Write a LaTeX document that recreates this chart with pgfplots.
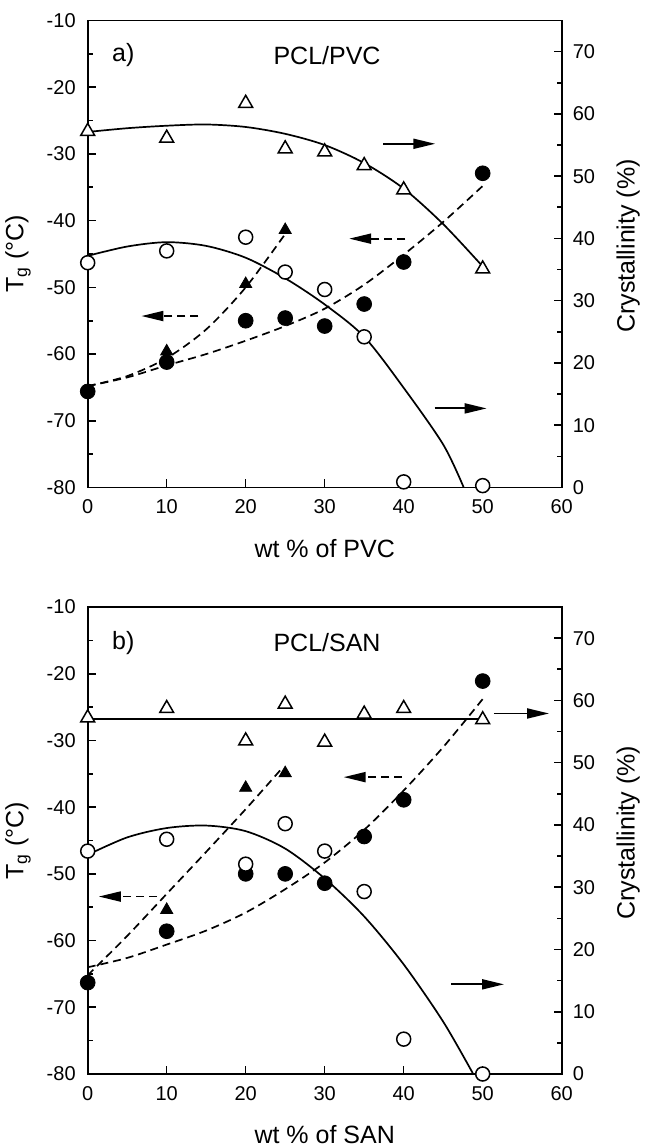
\documentclass[border=0pt]{standalone}
\usepackage{fontspec}
\setmainfont{Liberation Sans}
\usepackage{pgfplots}
\pgfplotsset{compat=1.18}
\usetikzlibrary{arrows.meta}

\newcommand{\tickfont}{\fontsize{10}{12}\selectfont}
\newcommand{\labfont}{\fontsize{12.5}{15}\selectfont}

\pgfplotsset{
  panel/.style={
    scale only axis, width=237pt, height=233.5pt,
    xmin=0, xmax=60, clip=false,
    tick align=inside,
    major tick length=4pt, minor tick length=2.5pt,
    axis line style={line width=0.9pt},
    tick style={line width=0.8pt, black},
    tick label style={font=\tickfont},
    label style={font=\labfont},
    /pgf/number format/assume math mode=true,
  },
  tgaxis/.style={
    panel,
    ymin=-80, ymax=-10,
    xtick={0,10,...,60}, ytick={-80,-70,...,-10},
    minor ytick={-75,-65,...,-15},
    xtick pos=bottom, ytick pos=left,
    yticklabel style={xshift=-2.5pt},
    xticklabel style={yshift=-2.5pt},
    ylabel={T\textsubscript{g} (°C)},
    ylabel style={at={(axis description cs:-0.147,0.5)}, anchor=center},
    xlabel style={at={(axis description cs:0.5,-0.13)}, anchor=center},
  },
  craxis/.style={
    panel,
    ymin=0, ymax=75,
    axis x line=none, axis y line*=right,
    ytick={0,10,...,70}, minor ytick={5,15,...,65},
    yticklabel style={xshift=2pt},
    ylabel={Crystallinity (\%)},
    ylabel style={at={(axis description cs:1.14,0.517)}, anchor=center},
  },
  fcirc/.style={only marks, mark=*, mark size=3.7pt, black},
  ocirc/.style={only marks, mark=*, mark size=3.5pt,
    mark options={fill=white, draw=black, line width=0.75pt}},
  ftri/.style={only marks, mark=triangle*, mark size=3.5pt, black},
  otri/.style={only marks, mark=triangle*, mark size=4pt,
    mark options={fill=white, draw=black, line width=0.75pt}},
  fit/.style={no marks, smooth, black, line width=0.85pt},
  dfit/.style={no marks, smooth, black, line width=0.85pt, dash pattern=on 4pt off 2.5pt},
  rarrow/.style={no marks, black, line width=0.95pt, -{Triangle[length=11pt,width=5pt]}},
  larrow/.style={no marks, black, line width=0.95pt, dash pattern=on 4pt off 2.5pt,
    -{Triangle[length=11pt,width=5pt]}},
}

\begin{document}
\begin{tikzpicture}

% ---------------- a) PCL/PVC ----------------
\begin{axis}[tgaxis, at={(43.85pt,329.25pt)}, anchor=south west,
  xlabel={wt \% of PVC}]
\addplot[dfit] coordinates {(0,-64.8) (5,-63.3) (10,-60.6) (15,-56.3) (20,-50.0) (25,-42.0)};
\addplot[dfit] coordinates {(0,-64.8) (5,-63.5) (10,-61.7) (15,-60.0) (20,-58.0) (25,-55.8)
  (30,-53.2) (35,-49.6) (40,-45.1) (45,-40.2) (50,-34.8)};
\addplot[fcirc] coordinates {(0,-65.6) (10,-61.2) (20,-55.0) (25,-54.6) (30,-55.8)
  (35,-52.5) (40,-46.2) (50,-32.9)};
\addplot[ftri] coordinates {(10,-59.6) (20,-49.5) (25,-41.4)};
\addplot[larrow] coordinates {(14.0,-54.3) (6.8,-54.3)};
\addplot[larrow] coordinates {(40.2,-42.7) (33.1,-42.7)};
\node[font=\labfont] at (axis cs:4.5,-15.2) {a)};
\node[font=\labfont] at (axis cs:30.3,-15.2) {PCL/PVC};
\end{axis}

\begin{axis}[craxis, at={(43.85pt,329.25pt)}, anchor=south west]
\addplot[fit] coordinates {(0,57.1) (5,57.7) (10,58.1) (15,58.3) (20,57.9) (25,56.8)
  (30,55.0) (35,52.1) (40,48.0) (45,42.3) (50,35.5)};
\addplot[fit] coordinates {(0,37.2) (5,38.7) (10,39.4) (15,38.8) (20,36.9) (25,33.6)
  (30,29.4) (35,24.2) (40,16.0) (45,6.9) (47.6,0)};
\addplot[otri] coordinates {(0,57.2) (10,56.1) (20,61.7) (25,54.4) (30,53.9)
  (35,51.7) (40,47.8) (50,35.1)};
\addplot[ocirc] coordinates {(0,36.1) (10,38.0) (20,40.2) (25,34.6) (30,31.8)
  (35,24.2) (40,0.9) (50,0.3)};
\addplot[rarrow] coordinates {(37.4,55.2) (44.0,55.2)};
\addplot[rarrow] coordinates {(43.9,12.7) (50.5,12.7)};
\end{axis}

% ---------------- b) PCL/SAN ----------------
\begin{axis}[tgaxis, at={(43.85pt,36pt)}, anchor=south west,
  xlabel={wt \% of SAN}]
\addplot[dfit] coordinates {(0,-65.2) (5,-59.3) (10,-53.0) (15,-46.7) (20,-40.3) (24.5,-34.3)};
\addplot[dfit] coordinates {(0,-64.0) (5,-62.6) (10,-60.6) (15,-58.5) (20,-55.8) (25,-52.3)
  (30,-48.3) (35,-43.4) (40,-37.5) (45,-31.0) (50,-23.8)};
\addplot[fcirc] coordinates {(0,-66.3) (10,-58.6) (20,-50.0) (25,-50.0) (30,-51.4)
  (35,-44.4) (40,-38.9) (50,-21.1)};
\addplot[ftri] coordinates {(10,-55.4) (20,-37.1) (25,-34.9)};
\addplot[larrow] coordinates {(8.8,-53.4) (1.4,-53.4)};
\addplot[larrow] coordinates {(39.8,-35.5) (32.4,-35.5)};
\node[font=\labfont] at (axis cs:4.5,-15.4) {b)};
\node[font=\labfont] at (axis cs:30.3,-15.4) {PCL/SAN};
\end{axis}

\begin{axis}[craxis, at={(43.85pt,36pt)}, anchor=south west]
\addplot[fit] coordinates {(0,57.0) (50,57.0)};
\addplot[fit] coordinates {(0,35.2) (5,38.0) (10,39.5) (15,39.9) (20,39.0) (25,36.2)
  (30,31.4) (35,25.3) (40,17.6) (45,8.4) (48.8,0)};
\addplot[otri] coordinates {(0,57.2) (10,58.7) (20,53.5) (25,59.4) (30,53.3)
  (35,57.8) (40,58.7) (50,56.9)};
\addplot[ocirc] coordinates {(0,35.8) (10,37.7) (20,33.7) (25,40.2) (30,35.8)
  (35,29.3) (40,5.6) (50,0)};
\addplot[rarrow] coordinates {(51.4,57.9) (58.4,57.9)};
\addplot[rarrow] coordinates {(46.0,14.4) (52.7,14.4)};
\end{axis}

\pgfresetboundingbox
\useasboundingbox (0,0) rectangle (322pt,573pt);
\end{tikzpicture}
\end{document}
